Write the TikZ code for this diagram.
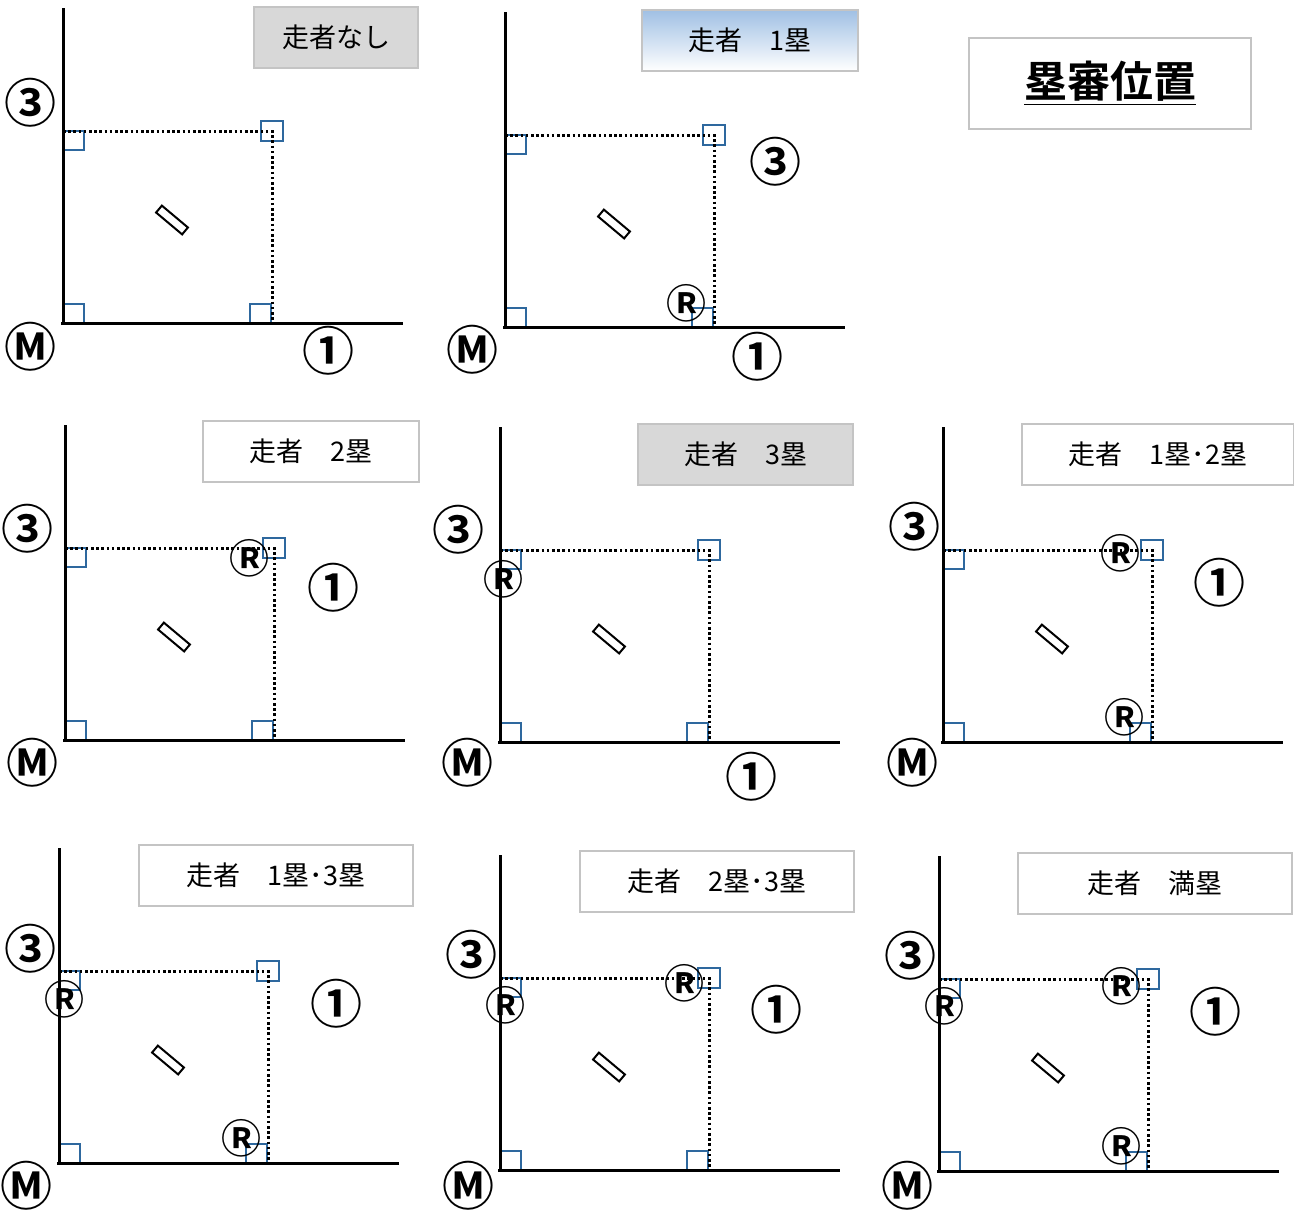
\documentclass[tikz,border=0pt]{standalone}
\usepackage{fontspec}
\newfontfamily\cjk{Noto Sans CJK JP}
\newfontfamily\cjkb{Noto Sans CJK JP Bold}
\definecolor{basecol}{RGB}{46,104,158}
\definecolor{boxgray}{RGB}{196,196,196}
\definecolor{fillgray}{RGB}{216,216,216}
\definecolor{gradblue}{RGB}{160,192,228}
\tikzset{
  axis/.style={line width=1.5pt, black},
  dotline/.style={line width=1.5pt, black, dash pattern=on 1.3pt off 1.3pt},
  basesq/.style={draw=basecol, line width=0.9pt},
  plate/.style={draw, line width=1pt, minimum width=17pt, minimum height=4.5pt, inner sep=0pt},
  tbox/.style={draw=boxgray, line width=0.7pt, inner sep=0pt, minimum height=30.5pt,
    font=\cjk\fontsize{13.5}{15}\selectfont},
  posl/.style={font=\cjkb\fontsize{26}{26}\selectfont, inner sep=0pt},
  runl/.style={font=\cjkb\fontsize{20}{20}\selectfont, inner sep=0pt},
}
\newcommand{\bfield}[3]{%
  \begin{scope}[shift={(#1,#2)}]
    \draw[basesq] (0,-192) rectangle (21,-173);
    \draw[basesq] (198,-202) rectangle (220,-182);
    \draw[basesq] (0,-19) rectangle (21,0);
    \draw[basesq] (187,-19) rectangle (208,0);
    \draw[dotline] (0,-192) -- (209,-192) -- (209,0);
    \draw[axis] (0,-315) -- (0,0);
    \draw[axis] (-2,0) -- (340,0);
    \node[plate, rotate=-40] (#3-plate) at (109,-103) {};
  \end{scope}}
\begin{document}
\begin{tikzpicture}[x=0.5pt, y=-0.5pt]
\useasboundingbox (0,0) rectangle (1294,1212);
\fill[white] (0,0) rectangle (1294,1212);

% main title
\node[tbox, minimum width=141pt, minimum height=45.5pt, font=\cjkb\fontsize{21.5}{23}\selectfont] (title) at (1110,83.5) {\underline{塁審位置}};

% panel 1
\bfield{63}{323}{p1}
\node[tbox, fill=fillgray, minimum width=82pt] (p1-t) at (336,37.5) {走者なし};
\node[posl] (p1-3) at (30,103) {③};
\node[posl] (p1-m) at (30,347) {Ⓜ};
\node[posl] (p1-1) at (328,351) {①};

% panel 2
\bfield{505}{327}{p2}
\node[tbox, top color=gradblue, bottom color=white, minimum width=108pt] (p2-t) at (750,40.5) {走者　1塁};
\node[posl] (p2-3) at (775,162) {③};
\node[posl] (p2-m) at (472,350) {Ⓜ};
\node[posl] (p2-1) at (757,357) {①};
\node[runl] (p2-r1) at (686,303) {Ⓡ};

% panel 3
\bfield{65}{740}{p3}
\node[tbox, minimum width=108pt] (p3-t) at (311,451.5) {走者　2塁};
\node[posl] (p3-3) at (28,529) {③};
\node[posl] (p3-m) at (32,763) {Ⓜ};
\node[posl] (p3-1) at (333,588) {①};
\node[runl] (p3-r2) at (249,558) {Ⓡ};

% panel 4
\bfield{500}{742}{p4}
\node[tbox, fill=fillgray, minimum width=107.5pt] (p4-t) at (745.5,454.5) {走者　3塁};
\node[posl] (p4-3) at (458,530) {③};
\node[posl] (p4-m) at (467,763) {Ⓜ};
\node[posl] (p4-1) at (751,777) {①};
\node[runl] (p4-r3) at (503,579) {Ⓡ};

% panel 5
\bfield{943}{742}{p5}
\node[tbox, minimum width=136pt] (p5-t) at (1158,454.5) {走者　1塁･2塁};
\node[posl] (p5-3) at (914,527) {③};
\node[posl] (p5-m) at (912,763) {Ⓜ};
\node[posl] (p5-1) at (1219,583) {①};
\node[runl] (p5-r2) at (1120,553) {Ⓡ};
\node[runl] (p5-r1) at (1124,717) {Ⓡ};

% panel 6
\bfield{59}{1163}{p6}
\node[tbox, minimum width=137pt] (p6-t) at (276,875.5) {走者　1塁･3塁};
\node[posl] (p6-3) at (30,949) {③};
\node[posl] (p6-m) at (27,1186) {Ⓜ};
\node[posl] (p6-1) at (336,1004) {①};
\node[runl] (p6-r3) at (64,999) {Ⓡ};
\node[runl] (p6-r1) at (241,1138) {Ⓡ};

% panel 7
\bfield{500}{1170}{p7}
\node[tbox, minimum width=137pt] (p7-t) at (717,881.5) {走者　2塁･3塁};
\node[posl] (p7-3) at (471,955) {③};
\node[posl] (p7-m) at (468,1186) {Ⓜ};
\node[posl] (p7-1) at (776,1010) {①};
\node[runl] (p7-r3) at (505,1005) {Ⓡ};
\node[runl] (p7-r2) at (684,983) {Ⓡ};

% panel 8
\bfield{939}{1171}{p8}
\node[tbox, minimum width=137pt] (p8-t) at (1155,883.5) {走者　満塁};
\node[posl] (p8-3) at (910,956) {③};
\node[posl] (p8-m) at (907,1186) {Ⓜ};
\node[posl] (p8-1) at (1215,1012) {①};
\node[runl] (p8-r3) at (944,1006) {Ⓡ};
\node[runl] (p8-r2) at (1121,986) {Ⓡ};
\node[runl] (p8-r1) at (1121,1146) {Ⓡ};
\end{tikzpicture}
\end{document}
